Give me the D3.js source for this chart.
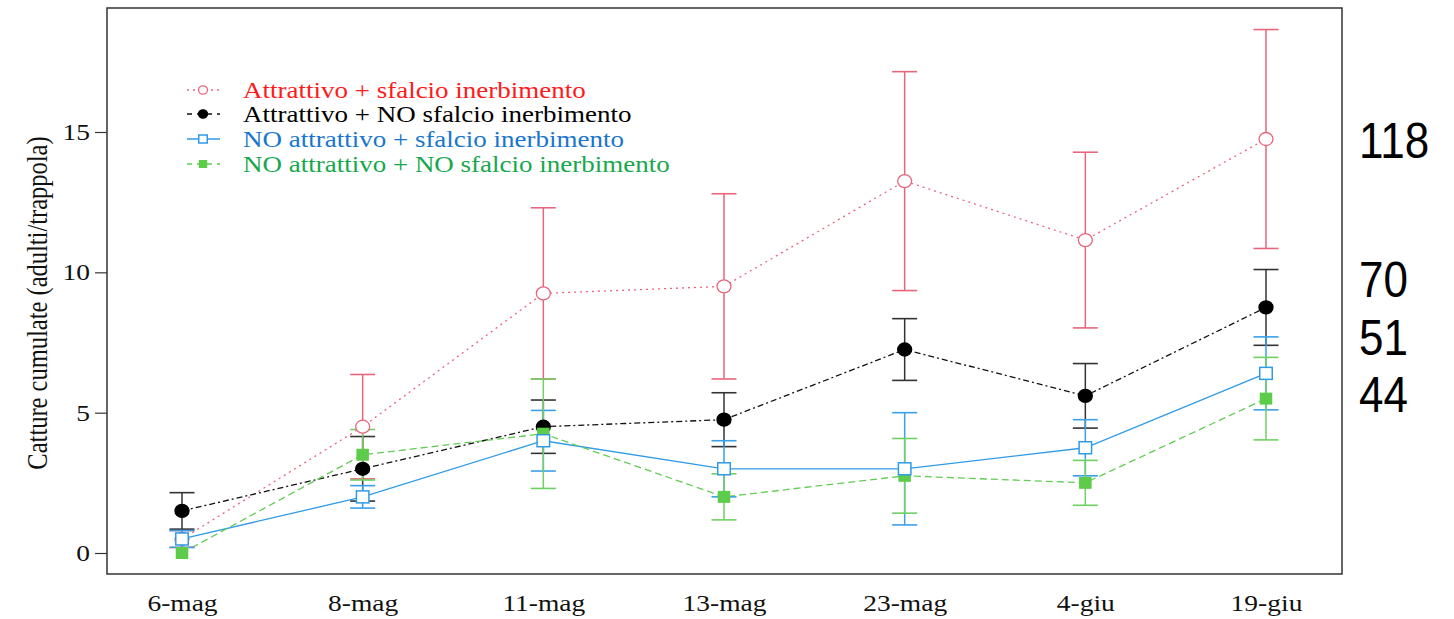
<!DOCTYPE html>
<html>
<head>
<meta charset="utf-8">
<title>Catture cumulate</title>
<script src="https://d3js.org/d3.v7.min.js"></script>
<style>
  body { margin: 0; background: #fff; }
</style>
</head>
<body>
<script>
// dates on the x axis
var dates = ["6-mag", "8-mag", "11-mag", "13-mag", "23-mag", "4-giu", "19-giu"];

// series names (legend)
var seriesNames = [
  "Attrattivo + sfalcio inerbimento",
  "Attrattivo + NO sfalcio inerbimento",
  "NO attrattivo + sfalcio inerbimento",
  "NO attrattivo + NO sfalcio inerbimento"
];

// means per date
var redMean   = [0.5, 4.5, 9.25, 9.5, 13.25, 11.15, 14.75];
var blackMean = [1.5, 3.0, 4.5, 4.75, 7.25, 5.6, 8.75];
var blueMean  = [0.5, 2.0, 4.0, 3.0, 3.0, 3.75, 6.4];
var greenMean = [0.0, 3.5, 4.25, 2.0, 2.75, 2.5, 5.5];

// half width of the error bars
var redErr   = [0.3, 1.86, 3.05, 3.3, 3.9, 3.13, 3.9];
var blackErr = [0.65, 1.15, 0.95, 0.96, 1.1, 1.15, 1.35];
var blueErr  = [0.3, 0.4, 1.08, 1.0, 2.0, 1.0, 1.3];
var greenErr = [0.0, 0.9, 1.95, 0.82, 1.33, 0.8, 1.47];

// totals written on the right, and the value they sit at
var totals   = [118, 70, 51, 44];
var totalsAt = [14.7, 9.75, 7.7, 5.65];

var yTicks = [0, 5, 10, 15];

var W = 1454, H = 619;
var sx = 1.17;           // the picture is stretched sideways a little
var fs = 23.5;
var serif = "'Liberation Serif', 'Times New Roman', serif";

var svg = d3.select("body").append("svg")
  .attr("width", W).attr("height", H);

var x = d3.scalePoint().domain(dates).range([182, 1266]);
var y = d3.scaleLinear().domain([0, 15]).range([553, 132]);

var frame = { l: 107, r: 1342, t: 8, b: 574 };

// styles for each series
var styles = [
  { line: "#e8667c", bar: "#e8667c", dash: "2,4", shape: "circle", fill: "#fff", text: "#ff1a1a", mean: redMean, err: redErr },
  { line: "#111", bar: "#333", dash: "6,3,2,3", shape: "circle", fill: "#000", text: "#000", mean: blackMean, err: blackErr },
  { line: "#2f9be6", bar: "#3aa0e8", dash: null, shape: "square", fill: "#fff", text: "#1976cc", mean: blueMean, err: blueErr },
  { line: "#62cc55", bar: "#6fd062", dash: "7,4", shape: "square", fill: "#5dcc4a", text: "#17a84d", mean: greenMean, err: greenErr }
];

// frame
svg.append("rect")
  .attr("x", frame.l).attr("y", frame.t)
  .attr("width", frame.r - frame.l).attr("height", frame.b - frame.t)
  .attr("fill", "none").attr("stroke", "#333").attr("stroke-width", 1.5);

// y axis
var yAxis = svg.append("g")
  .attr("transform", "translate(" + frame.l + ",0)")
  .call(d3.axisLeft(y).tickValues(yTicks).tickSize(12).tickPadding(0).tickFormat(d3.format("d")));
yAxis.select(".domain").remove();
yAxis.selectAll(".tick line").attr("stroke", "#333").attr("stroke-width", 1.2);
yAxis.selectAll(".tick text")
  .attr("x", null)
  .attr("font-size", fs)
  .attr("fill", "#111")
  .attr("font-family", serif)
  .attr("transform", "translate(-17,0) scale(" + sx + ",1)");

// x axis (labels only)
var xAxis = svg.append("g")
  .attr("transform", "translate(0," + frame.b + ")")
  .call(d3.axisBottom(x).tickSize(0).tickPadding(20));
xAxis.select(".domain").remove();
xAxis.selectAll(".tick text")
  .attr("font-size", fs)
  .attr("fill", "#111")
  .attr("font-family", serif)
  .attr("y", null)
  .attr("transform", "translate(0,20) scale(" + sx + ",1)");

// y axis title
svg.append("text")
  .attr("transform", "translate(47," + ((frame.t + frame.b) / 2 + 12) + ") rotate(-90) scale(1," + sx + ")")
  .attr("text-anchor", "middle")
  .attr("font-family", serif)
  .attr("font-size", 24.5)
  .attr("fill", "#111")
  .text("Catture cumulate (adulti/trappola)");

// lines
styles.forEach(function(s) {
  var line = d3.line()
    .x(function(d, i) { return x(dates[i]); })
    .y(function(d) { return y(d); });
  svg.append("path")
    .datum(s.mean)
    .attr("d", line)
    .attr("fill", "none")
    .attr("stroke", s.line)
    .attr("stroke-width", 1.3)
    .attr("stroke-dasharray", s.dash);
});

// error bars
styles.forEach(function(s) {
  var g = svg.append("g");
  s.mean.forEach(function(m, i) {
    var e = s.err[i];
    if (e <= 0) return;
    var cx = x(dates[i]);
    g.append("line")
      .attr("x1", cx).attr("x2", cx)
      .attr("y1", y(m - e)).attr("y2", y(m + e))
      .attr("stroke", s.bar).attr("stroke-width", 1.5);
    [m - e, m + e].forEach(function(v) {
      g.append("line")
        .attr("x1", cx - 12.5).attr("x2", cx + 12.5)
        .attr("y1", y(v)).attr("y2", y(v))
        .attr("stroke", s.bar).attr("stroke-width", 1.6);
    });
  });
});

// markers
function drawMarker(g, s, cx, cy, big) {
  if (s.shape === "circle") {
    g.append("ellipse")
      .attr("cx", cx).attr("cy", cy)
      .attr("rx", big ? 7 : 4.5).attr("ry", big ? 6.5 : 4.2)
      .attr("fill", s.fill)
      .attr("stroke", s.fill === "#fff" ? s.line : s.fill)
      .attr("stroke-width", 1.3);
  } else {
    var w = big ? 12.5 : 8.5, h = big ? 12 : 8;
    g.append("rect")
      .attr("x", cx - w / 2).attr("y", cy - h / 2)
      .attr("width", w).attr("height", h)
      .attr("fill", s.fill)
      .attr("stroke", s.fill === "#fff" ? s.line : "none")
      .attr("stroke-width", 1.5);
  }
}

// drawn in the order red, black, green, blue
[0, 1, 3, 2].forEach(function(k) {
  var s = styles[k];
  var g = svg.append("g");
  s.mean.forEach(function(m, i) {
    drawMarker(g, s, x(dates[i]), y(m), true);
  });
});

// legend
var legendRows = [90, 114, 139, 164];
styles.forEach(function(s, k) {
  var g = svg.append("g");
  var cy = legendRows[k];
  g.append("line")
    .attr("x1", 187).attr("x2", 220)
    .attr("y1", cy).attr("y2", cy)
    .attr("stroke", s.line).attr("stroke-width", 1.3)
    .attr("stroke-dasharray", s.dash ? (k === 0 ? "2,4" : "5,5") : null);
  drawMarker(g, s, 203, cy, false);
  g.append("text")
    .attr("transform", "translate(243," + (cy + 8) + ") scale(1.2,1)")
    .attr("font-family", serif)
    .attr("font-size", 22.5)
    .attr("fill", s.text)
    .text(seriesNames[k]);
});

// totals on the right (narrow sans look)
svg.selectAll(".total")
  .data(totals)
  .enter().append("text")
  .attr("class", "total")
  .attr("transform", function(d, i) {
    return "translate(1359," + (y(totalsAt[i]) + 18) + ") scale(0.88,1)";
  })
  .attr("font-family", "'Liberation Sans', Arial, sans-serif")
  .attr("font-size", 50)
  .attr("fill", "#000")
  .text(function(d) { return d; });
</script>
</body>
</html>
